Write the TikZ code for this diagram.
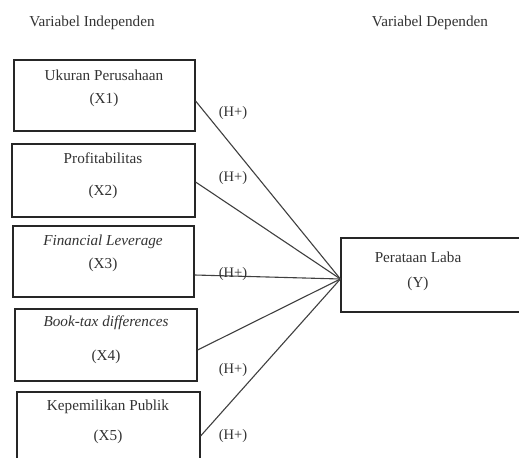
\documentclass[tikz,border=0pt]{standalone}
\usepackage{fontspec}
\setmainfont{Liberation Serif}
\begin{document}
\begin{tikzpicture}[x=1bp,y=-1bp,
  vbox/.style={draw=black!85,line width=1.2bp,minimum width=182bp,minimum height=72bp,inner sep=0pt},
  txt/.style={font=\fontsize{15.2bp}{17bp}\selectfont,inner sep=0pt,text=black!80},
  conn/.style={draw=black!75,line width=1.1bp},
  hlab/.style={font=\fontsize{14.5bp}{16bp}\selectfont,inner sep=0pt,text=black!80}]
\clip (0,0) rectangle (519,458);
\fill[white] (0,0) rectangle (519,458);
\node[txt] (ti) at (92,23) {Variabel Independen};
\node[txt] (td) at (430,23) {Variabel Dependen};
\node[vbox,minimum width=181bp,minimum height=71bp] (b1) at (104.5,95.5) {};
\node[vbox,minimum width=183bp,minimum height=73bp] (b2) at (103.5,180.5) {};
\node[vbox,minimum width=181bp,minimum height=71bp] (b3) at (103.5,261.5) {};
\node[vbox,minimum width=182bp,minimum height=72bp] (b4) at (106,345) {};
\node[vbox,minimum width=183bp,minimum height=74bp] (b5) at (108.5,429) {};
\node[vbox,minimum width=184bp,minimum height=74bp] (y) at (433,275) {};
\node[txt] (t1a) at (104,75) {Ukuran Perusahaan};
\node[txt] (t1b) at (104,100) {(X1)};
\node[txt] (t2a) at (103,158) {Profitabilitas};
\node[txt] (t2b) at (103,192) {(X2)};
\node[txt] (t3a) at (103,242) {\itshape Financial Leverage};
\node[txt] (t3b) at (103,265) {(X3)};
\node[txt] (t4a) at (106,323) {\itshape Book-tax differences};
\node[txt] (t4b) at (106,357) {(X4)};
\node[txt] (t5a) at (108,407) {Kepemilikan Publik};
\node[txt] (t5b) at (108,437) {(X5)};
\node[txt] (tya) at (418,257) {Perataan Laba};
\node[txt] (tyb) at (418,284) {(Y)};
\coordinate (c) at ([yshift=-4bp]y.west);
\draw[conn] ([yshift=-5.5bp]b1.east) -- (c);
\draw[conn] ([yshift=-1.5bp]b2.east) -- (c);
\draw[conn] ([yshift=-13.5bp]b3.east) -- (c);
\draw[conn] ([yshift=-5bp]b4.east) -- (c);
\draw[conn] ([yshift=-7bp]b5.east) -- (c);
\node[hlab] (h1) at (233,113) {(H+)};
\node[hlab] (h2) at (233,178) {(H+)};
\node[hlab] (h3) at (233,274) {(H+)};
\node[hlab] (h4) at (233,370) {(H+)};
\node[hlab] (h5) at (233,436) {(H+)};
\end{tikzpicture}
\end{document}
